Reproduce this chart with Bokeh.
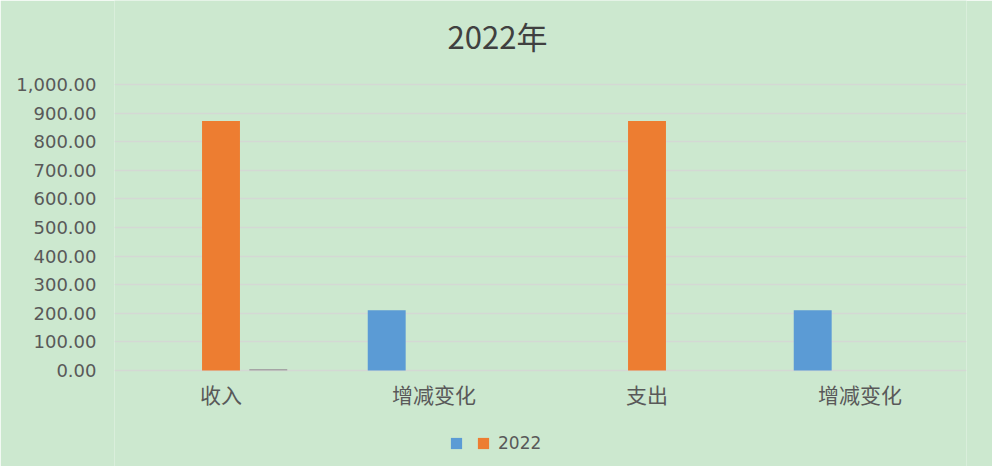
from bokeh.plotting import figure
from bokeh.models import (Range1d, FixedTicker, NumeralTickFormatter, ColumnDataSource,
                          Legend, LegendItem, Label)
from bokeh.transform import dodge
from bokeh.core.properties import value
from bokeh.embed import file_html
from bokeh.resources import INLINE

# ---- data ----
categories = ["收入", "增减变化", "支出", "增减变化"]
series_blue = [0, 211, 0, 211]        # unnamed series
series_orange = [872, 0, 872, 0]      # 2022
series_gray = [5, 0, 0, 0]            # unnamed, not in legend
legend_labels = ["", "2022"]
title_text = "2022年"
y_ticks = [0, 100, 200, 300, 400, 500, 600, 700, 800, 900, 1000]

BG = "#CCE8CF"
BLUE = "#5B9BD5"
ORANGE = "#ED7D31"
GRAY = "#A5A5A5"

# layout (pixels): frame spans full height; value axis 0..1000 occupies rows 84..370
W, H = 992, 466
ROW_TOP, ROW_ZERO = 84, 370
px_per_unit = (ROW_ZERO - ROW_TOP) / 1000
y_min = -(H - ROW_ZERO) / px_per_unit
y_max = 1000 + ROW_TOP / px_per_unit

pos = [i + 0.5 for i in range(len(categories))]
src = ColumnDataSource(dict(x=pos, cat=categories, blue=series_blue,
                            orange=series_orange, gray=series_gray))

p = figure(width=W, height=H, output_backend="svg", toolbar_location=None,
           x_range=Range1d(0, len(categories)), y_range=Range1d(y_min, y_max),
           x_axis_location=None,
           min_border_left=114, min_border_right=26, min_border_top=0, min_border_bottom=0)
p.background_fill_color = BG
p.border_fill_color = BG
p.outline_line_color = None

bw = 0.178
rb = p.vbar(x=dodge("x", -0.222, range=p.x_range), top="blue", width=bw, source=src,
            fill_color=BLUE, line_color=None)
ro = p.vbar(x=dodge("x", 0.0, range=p.x_range), top="orange", width=bw, source=src,
            fill_color=ORANGE, line_color=None)
rg = p.vbar(x=dodge("x", 0.222, range=p.x_range), top="gray", width=bw, source=src,
            fill_color=GRAY, line_color=None)

# category labels under the zero line
p.text(x="x", y=0, text="cat", source=src, y_offset=23,
       text_align="center", text_baseline="middle",
       text_font=value("Noto Sans CJK SC"), text_font_size="21px", text_color="#595959")

p.yaxis.ticker = FixedTicker(ticks=y_ticks)
p.yaxis.formatter = NumeralTickFormatter(format="0,0.00")
p.yaxis.axis_line_color = None
p.yaxis.major_tick_line_color = None
p.yaxis.minor_tick_line_color = None
p.yaxis.major_label_text_font = "DejaVu Sans"
p.yaxis.major_label_text_font_size = "18px"
p.yaxis.major_label_text_color = "#595959"
p.yaxis.major_label_standoff = 12

p.xgrid.grid_line_color = None
p.ygrid.ticker = FixedTicker(ticks=y_ticks)
p.ygrid.grid_line_color = "#D4D8D4"
p.ygrid.grid_line_width = 1.5

# title (centred on the whole chart, above the value area)
p.add_layout(Label(x=len(categories) / 2, y=1000, x_offset=-43, y_offset=49,
                   text=title_text, text_align="center", text_baseline="middle",
                   text_font="Noto Sans CJK SC", text_font_size="31px",
                   text_color="#404040"))

# legend
legend = Legend(items=[LegendItem(label=value(legend_labels[0] or " "), renderers=[rb]),
                       LegendItem(label=value(legend_labels[1]), renderers=[ro])],
                orientation="horizontal", location=(335, 13))
legend.glyph_width = 14
legend.glyph_height = 14
legend.label_standoff = 8
legend.label_width = 0
legend.spacing = 5
legend.padding = 0
legend.margin = 0
legend.border_line_color = None
legend.background_fill_alpha = 0
legend.label_text_font = "DejaVu Sans"
legend.label_text_font_size = "17px"
legend.label_text_color = "#595959"
p.add_layout(legend, "center")

open("out.html", "w").write(file_html(p, INLINE))
